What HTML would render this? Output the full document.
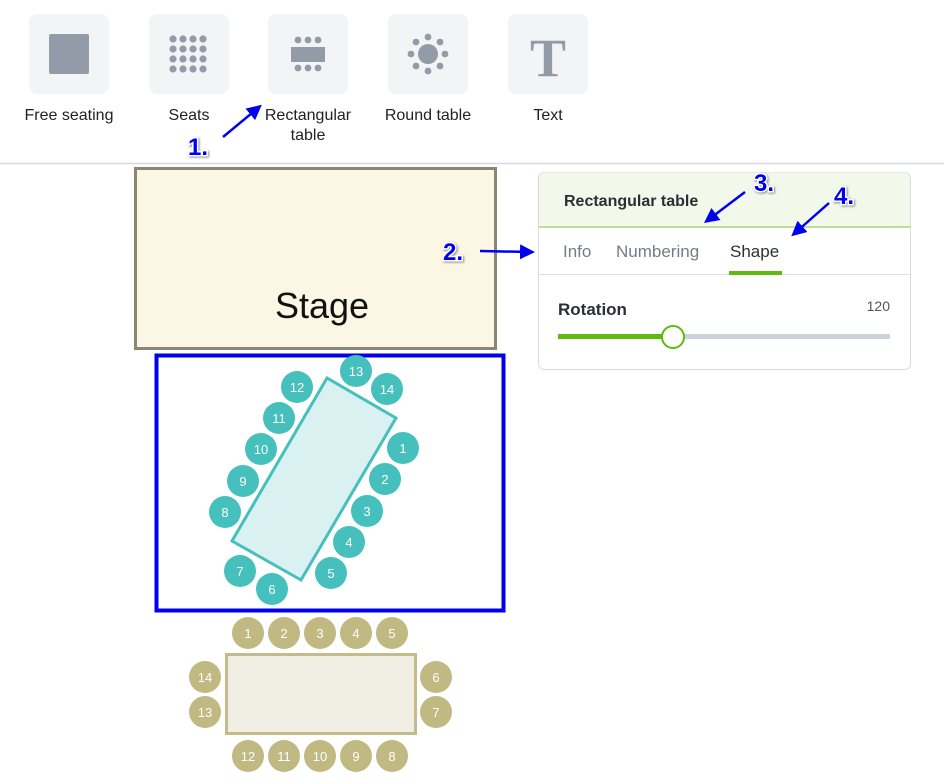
<!DOCTYPE html>
<html><head><meta charset="utf-8"><style>
body{margin:0;background:#fff;width:944px;height:779px;overflow:hidden;font-family:"Liberation Sans",sans-serif}
</style></head><body>
<svg width="944" height="779" viewBox="0 0 944 779" xmlns="http://www.w3.org/2000/svg" font-family="Liberation Sans, sans-serif">
<defs>
<marker id="ah" markerWidth="6" markerHeight="6" refX="4" refY="3" orient="auto" markerUnits="strokeWidth"><path d="M0,0 L6,3 L0,6 Z" fill="#0000ee"/></marker>
</defs>
<g fill="#f3f4f6">
<rect x="29" y="14" width="80" height="80" rx="8"/>
<rect x="149" y="14" width="80" height="80" rx="8"/>
<rect x="268" y="14" width="80" height="80" rx="8"/>
<rect x="388" y="14" width="80" height="80" rx="8"/>
<rect x="508" y="14" width="80" height="80" rx="8"/>
</g>
<g fill="#939ba8">
<rect x="49" y="34" width="40" height="40" rx="2"/>
<circle cx="173" cy="39" r="3.6"/><circle cx="183" cy="39" r="3.6"/><circle cx="193" cy="39" r="3.6"/><circle cx="203" cy="39" r="3.6"/>
<circle cx="173" cy="49" r="3.6"/><circle cx="183" cy="49" r="3.6"/><circle cx="193" cy="49" r="3.6"/><circle cx="203" cy="49" r="3.6"/>
<circle cx="173" cy="59" r="3.6"/><circle cx="183" cy="59" r="3.6"/><circle cx="193" cy="59" r="3.6"/><circle cx="203" cy="59" r="3.6"/>
<circle cx="173" cy="69" r="3.6"/><circle cx="183" cy="69" r="3.6"/><circle cx="193" cy="69" r="3.6"/><circle cx="203" cy="69" r="3.6"/>
<circle cx="298" cy="40" r="3.4"/><circle cx="308" cy="40" r="3.4"/><circle cx="318" cy="40" r="3.4"/>
<rect x="291" y="47" width="34" height="15"/>
<circle cx="298" cy="68" r="3.4"/><circle cx="308" cy="68" r="3.4"/><circle cx="318" cy="68" r="3.4"/>
<circle cx="428" cy="54" r="10"/>
<circle cx="428" cy="37" r="3.4"/><circle cx="428" cy="71" r="3.4"/><circle cx="411" cy="54" r="3.4"/><circle cx="445" cy="54" r="3.4"/>
<circle cx="416" cy="42" r="3.4"/><circle cx="440" cy="42" r="3.4"/><circle cx="416" cy="66" r="3.4"/><circle cx="440" cy="66" r="3.4"/>
</g>
<text x="548" y="76" text-anchor="middle" font-family="Liberation Serif, serif" font-weight="bold" font-size="54" fill="#939ba8">T</text>
<g font-size="16" fill="#222" text-anchor="middle">
<text x="69" y="120">Free seating</text>
<text x="189" y="120">Seats</text>
<text x="308" y="120">Rectangular</text>
<text x="308" y="140">table</text>
<text x="428" y="120">Round table</text>
<text x="548" y="120">Text</text>
</g>
<line x1="0" y1="163.5" x2="944" y2="163.5" stroke="#d6dade" stroke-width="1.5"/>
<rect x="135.5" y="168.5" width="360" height="180" fill="#fcf6e4" stroke="#8a8672" stroke-width="3"/>
<text x="322" y="318" text-anchor="middle" font-size="36" fill="#111">Stage</text>
<rect x="156.5" y="355.5" width="347" height="255" fill="none" stroke="#0000ee" stroke-width="4"/>
<polygon points="327,378 396,418 301,580 232,541" fill="#d9f1f1" stroke="#46c0bd" stroke-width="3"/>
<g fill="#46c0bd">
<circle cx="403" cy="448" r="16"/><circle cx="385" cy="479" r="16"/><circle cx="367" cy="511" r="16"/><circle cx="349" cy="542" r="16"/><circle cx="331" cy="573" r="16"/>
<circle cx="272" cy="589" r="16"/><circle cx="240" cy="571" r="16"/><circle cx="225" cy="512" r="16"/><circle cx="243" cy="481" r="16"/><circle cx="261" cy="449" r="16"/>
<circle cx="279" cy="418" r="16"/><circle cx="297" cy="387" r="16"/><circle cx="356" cy="371" r="16"/><circle cx="387" cy="389" r="16"/>
</g>
<g fill="#fff" font-size="13" text-anchor="middle">
<text x="403" y="453">1</text><text x="385" y="484">2</text><text x="367" y="516">3</text><text x="349" y="547">4</text><text x="331" y="578">5</text>
<text x="272" y="594">6</text><text x="240" y="576">7</text><text x="225" y="517">8</text><text x="243" y="486">9</text><text x="261" y="454">10</text>
<text x="279" y="423">11</text><text x="297" y="392">12</text><text x="356" y="376">13</text><text x="387" y="394">14</text>
</g>
<rect x="226.5" y="654.5" width="189" height="79" fill="#f1efe4" stroke="#c3bc8a" stroke-width="3"/>
<g fill="#c0b982">
<circle cx="248" cy="633" r="16"/><circle cx="284" cy="633" r="16"/><circle cx="320" cy="633" r="16"/><circle cx="356" cy="633" r="16"/><circle cx="392" cy="633" r="16"/>
<circle cx="436" cy="677" r="16"/><circle cx="436" cy="712" r="16"/>
<circle cx="392" cy="756" r="16"/><circle cx="356" cy="756" r="16"/><circle cx="320" cy="756" r="16"/><circle cx="284" cy="756" r="16"/><circle cx="248" cy="756" r="16"/>
<circle cx="205" cy="712" r="16"/><circle cx="205" cy="677" r="16"/>
</g>
<g fill="#fff" font-size="13" text-anchor="middle">
<text x="248" y="638">1</text><text x="284" y="638">2</text><text x="320" y="638">3</text><text x="356" y="638">4</text><text x="392" y="638">5</text>
<text x="436" y="682">6</text><text x="436" y="717">7</text>
<text x="392" y="761">8</text><text x="356" y="761">9</text><text x="320" y="761">10</text><text x="284" y="761">11</text><text x="248" y="761">12</text>
<text x="205" y="717">13</text><text x="205" y="682">14</text>
</g>
<rect x="538.5" y="172.5" width="372" height="197" rx="6" fill="#fff" stroke="#d6dbe0"/>
<path d="M539,227 V178.5 a6,6 0 0 1 6,-6 H904 a6,6 0 0 1 6,6 V227 Z" fill="#f2f8ea"/>
<line x1="539" y1="227" x2="910" y2="227" stroke="#a9d67c" stroke-width="1.5"/>
<text x="564" y="206" font-size="16" font-weight="bold" fill="#2a2f35">Rectangular table</text>
<g font-size="17">
<text x="563" y="257" fill="#737d88">Info</text>
<text x="616" y="257" fill="#737d88">Numbering</text>
<text x="730" y="257" fill="#2a2f35">Shape</text>
</g>
<line x1="539" y1="274.5" x2="910" y2="274.5" stroke="#dde1e5"/>
<rect x="729" y="271" width="53" height="4" fill="#5fba12"/>
<text x="558" y="315" font-size="17" font-weight="bold" fill="#2a2f35">Rotation</text>
<text x="890" y="311" font-size="14" fill="#555" text-anchor="end">120</text>
<rect x="558" y="334" width="332" height="5" fill="#cbd2d9"/>
<rect x="558" y="334" width="115" height="5" fill="#5fba12"/>
<circle cx="673" cy="337" r="11" fill="#fff" stroke="#5fba12" stroke-width="2"/>
<g stroke="#0000ee" stroke-width="2.5" fill="none">
<line x1="223" y1="137" x2="258" y2="108" marker-end="url(#ah)"/>
<line x1="480" y1="251" x2="530" y2="252" marker-end="url(#ah)"/>
<line x1="745" y1="192" x2="708" y2="220" marker-end="url(#ah)"/>
<line x1="829" y1="203" x2="795" y2="233" marker-end="url(#ah)"/>
</g>
<g font-size="24" font-weight="bold" fill="#0000ee" stroke="#fff" stroke-width="3" paint-order="stroke" style="filter:drop-shadow(1px 1px 1px #888)">
<text x="188" y="155">1.</text>
<text x="443" y="260">2.</text>
<text x="754" y="191">3.</text>
<text x="834" y="204">4.</text>
</g>
</svg>
</body></html>
